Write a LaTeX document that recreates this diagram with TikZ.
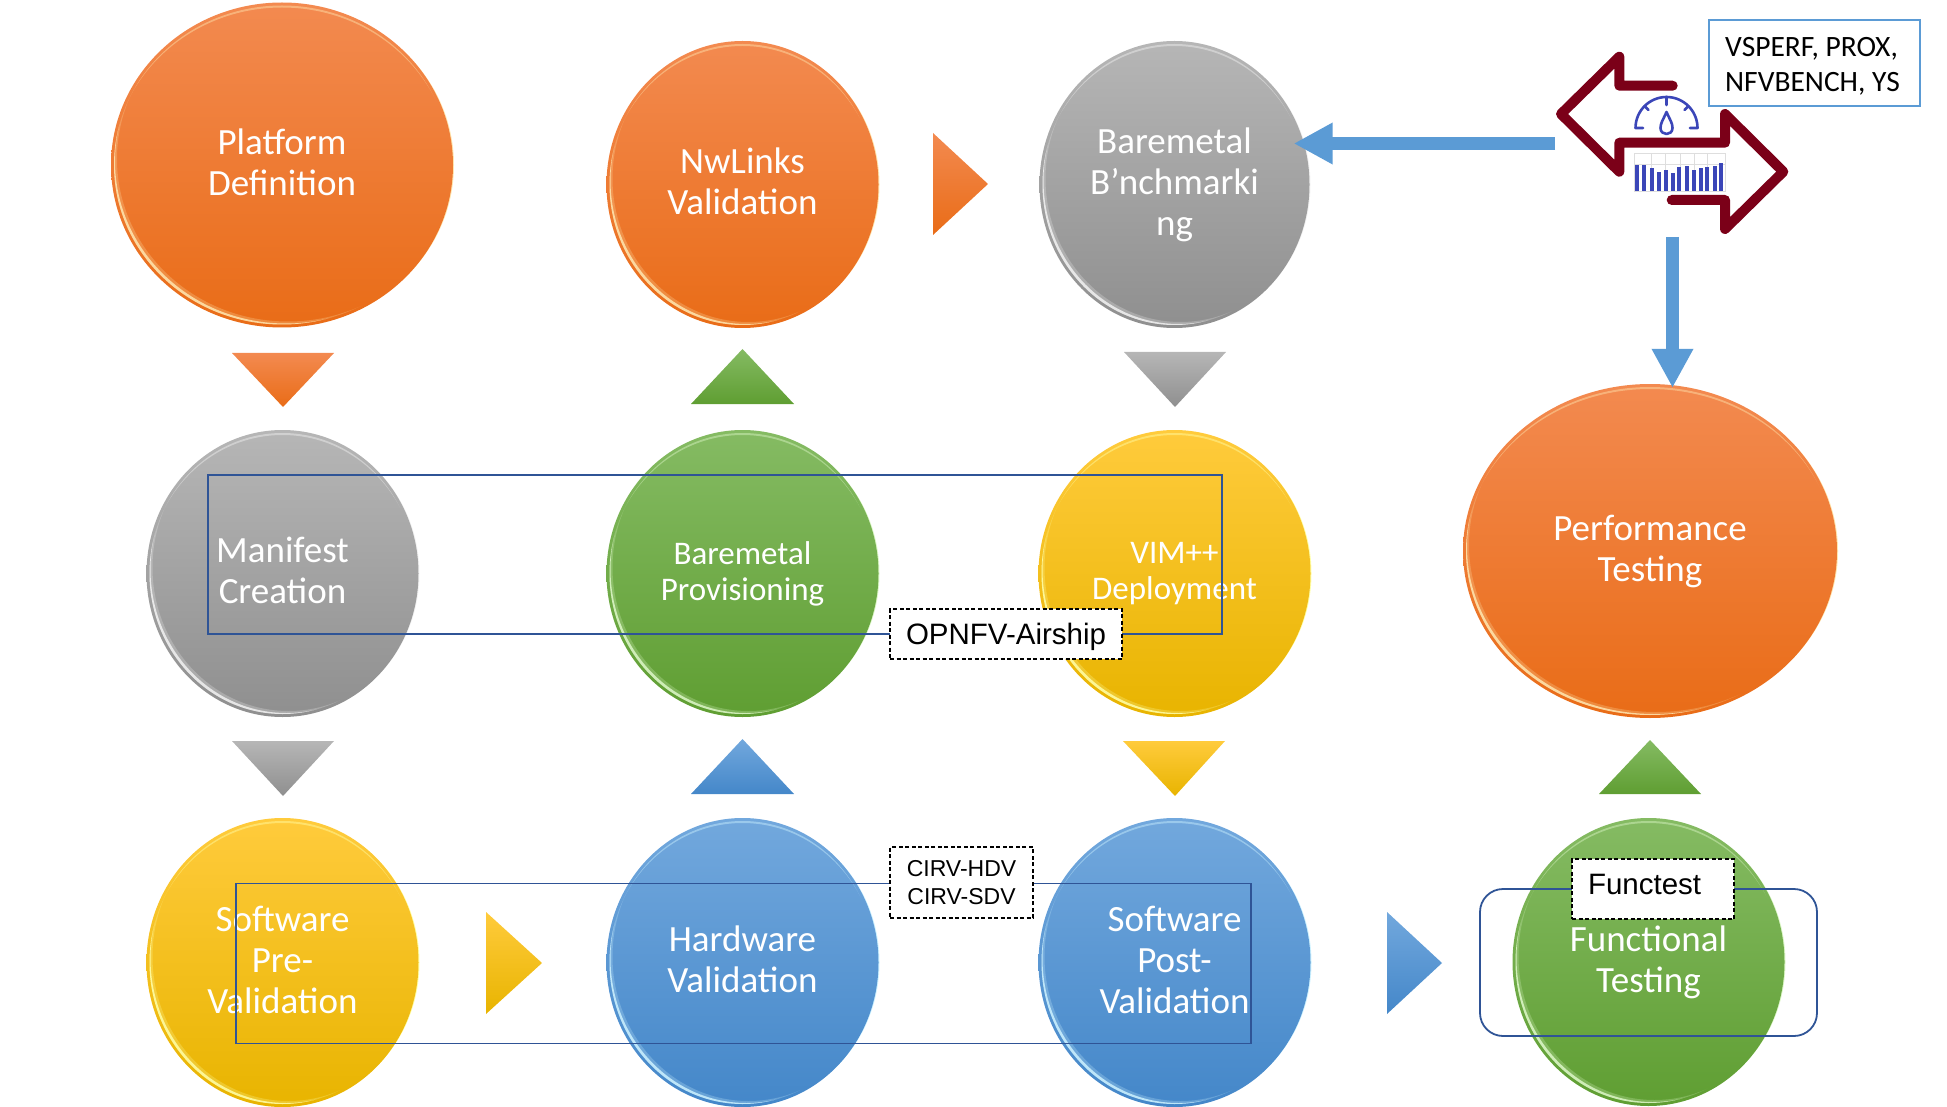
\documentclass[tikz,border=0pt]{standalone}
\usepackage{fontspec}
\setmainfont{Carlito}
\newfontfamily\arialf{Liberation Sans}
\usetikzlibrary{shapes.geometric,arrows.meta}
\definecolor{orT}{HTML}{F38A50}\definecolor{orM}{HTML}{F57C26}\definecolor{orB}{HTML}{E96C17}\definecolor{orP}{HTML}{FFE6B0}
\definecolor{grT}{HTML}{B6B6B6}\definecolor{grM}{HTML}{A5A5A5}\definecolor{grB}{HTML}{8F8F8F}\definecolor{grP}{HTML}{F2F2F2}
\definecolor{gnT}{HTML}{85BB63}\definecolor{gnM}{HTML}{70AD47}\definecolor{gnB}{HTML}{5F9E32}\definecolor{gnP}{HTML}{DDF7C8}
\definecolor{yeT}{HTML}{FFCB3C}\definecolor{yeM}{HTML}{FFC000}\definecolor{yeB}{HTML}{E8B400}\definecolor{yeP}{HTML}{FFFFA8}
\definecolor{blT}{HTML}{72A8DD}\definecolor{blM}{HTML}{5B9BD5}\definecolor{blB}{HTML}{4487C9}\definecolor{blP}{HTML}{CDF2FF}
\definecolor{framec}{HTML}{2F5496}
\definecolor{iconred}{HTML}{7B0018}
\definecolor{iconblue}{HTML}{3B46B8}
\tikzset{
  ballstyle/.style={ellipse,inner sep=0pt,text=white,align=center,font=\fontsize{37}{41}\selectfont},
  smalltext/.style={font=\fontsize{33}{36}\selectfont},
  groupbox/.style={draw=framec,line width=1.8pt,inner sep=0pt},
  tagbox/.style={draw=black,dashed,dash pattern=on 4pt off 2.5pt,line width=1.8pt,fill=white,inner sep=0pt,align=center,font=\arialf\fontsize{29.5}{34}\selectfont},
  fatarrow/.style={draw=blM,line width=13pt,-{Triangle[width=39pt,length=39pt]}},
  iconline/.style={draw=iconred,line width=10pt,line join=round,line cap=round},
  gaugeline/.style={draw=iconblue,line width=2.6pt,line cap=round,line join=round},
  gridline/.style={draw=black!13,line width=0.8pt},
  barline/.style={draw=iconblue,line width=3.9pt}
}
\newcommand{\liftby}[1]{\rule[-#1pt]{0pt}{1pt}}
% name, cx, cy, rx, ry, colour prefix, text, extra node options
\newcommand{\glossball}[8]{%
  \fill[#6P] ({#2+4},#3) ellipse [x radius=#4 pt-3pt,y radius=#5 pt-3pt];
  \node[ballstyle,minimum width=2*#4 pt,minimum height=2*#5 pt,top color=#6T,middle color=#6M,bottom color=#6B,#8] (#1) at (#2,#3) {#7};
  \begin{scope}
    \clip (#2,#3) ellipse [x radius=#4 pt-3pt,y radius=#5 pt-3pt];
    \fill[#6P,opacity=.85,even odd rule] ({#2-#4-5},{#3-#5-5}) rectangle ({#2+#4+5},{#3+#5+5}) ({#2+4},{#3-4}) ellipse [x radius=#4 pt,y radius=#5 pt];
    \fill[#6P,opacity=.25,even odd rule] ({#2-#4-5},{#3-#5-5}) rectangle ({#2+#4+5},{#3+#5+5}) ({#2+6},{#3-6}) ellipse [x radius=#4 pt,y radius=#5 pt];
    \fill[#6P,opacity=.45,even odd rule] ({#2-#4-5},{#3-#5-5}) rectangle ({#2+#4+5},{#3+#5+5}) (#2,{#3+4}) ellipse [x radius=#4 pt-1pt,y radius=#5 pt-1pt];
  \end{scope}
}
% three corners, colour prefix
\newcommand{\chevron}[4]{\shade[top color=#4T,middle color=#4M,bottom color=#4B] #1 -- #2 -- #3 -- cycle;}
\begin{document}
\begin{tikzpicture}[x=1pt,y=-1pt]
\useasboundingbox (0,0) rectangle (1947,1107);
% balls
\glossball{platform}{282}{165}{171}{162.5}{or}{Platform\\Definition\liftby{5}}{}
\glossball{nwlinks}{742.5}{184.5}{136}{143.5}{or}{NwLinks\\Validation\liftby{7}}{}
\glossball{bmbench}{1174.5}{184.5}{135}{143.5}{gr}{Baremetal\\B’nchmarki\\ng}{}
\glossball{manifest}{282.5}{573.5}{136}{143.5}{gr}{Manifest\\Creation\liftby{7}}{}
\glossball{bmprov}{742.5}{573.5}{136}{143.5}{gn}{Baremetal\\Provisioning}{smalltext}
\glossball{vim}{1174.5}{573.5}{136}{143.5}{ye}{VIM++\\Deployment}{smalltext}
\glossball{perf}{1650}{551}{187}{167}{or}{Performance\\Testing}{}
\glossball{swpre}{282.5}{962.5}{136}{144.5}{ye}{Software\\Pre-\\Validation\liftby{6}}{}
\glossball{hwval}{742.5}{962.5}{136}{144.5}{bl}{Hardware\\Validation\liftby{6}}{}
\glossball{swpost}{1174.5}{962.5}{136}{144.5}{bl}{Software\\Post-\\Validation\liftby{6}}{}
\glossball{func}{1648.5}{962}{136}{144}{gn}{Functional\\Testing}{}
% chevrons
\chevron{(232,353)}{(334,353)}{(283,407)}{or}
\chevron{(232,741)}{(334,741)}{(283,796)}{gr}
\chevron{(691,404)}{(794,404)}{(742.5,349)}{gn}
\chevron{(691,794)}{(794,794)}{(742.5,739)}{bl}
\chevron{(1124,352)}{(1226,352)}{(1175,407)}{gr}
\chevron{(1123,741)}{(1225,741)}{(1175,796)}{ye}
\chevron{(1599,794)}{(1701,794)}{(1650,740)}{gn}
\chevron{(933,133)}{(988,184)}{(933,235)}{or}
\chevron{(486,912)}{(542,963)}{(486,1014)}{ye}
\chevron{(1387,912)}{(1442,963)}{(1387,1014)}{bl}
% group frames
\node[groupbox,minimum width=1014pt,minimum height=159pt] (frameA) at (715,554.5) {};
\node[groupbox,minimum width=1015pt,minimum height=160pt] (frameB) at (743.5,963.5) {};
\node[groupbox,rounded corners=23pt,minimum width=337pt,minimum height=147pt] (frameC) at (1648.5,962.5) {};
% tags
\node[tagbox,minimum width=232pt,minimum height=50pt] (opnfv) at (1006,634) {\rule{0pt}{28pt}OPNFV-Airship};
\node[tagbox,font=\arialf\fontsize{23}{27.5}\selectfont,minimum width=143pt,minimum height=71pt] (cirv) at (961.5,882.5) {CIRV-HDV\\CIRV-SDV};
\node[tagbox,minimum height=60pt,text width=130pt,inner xsep=16pt,align=left] (functest) at (1653,889) {\raisebox{10pt}{Functest}};
\node[draw=blM,line width=2pt,fill=white,inner sep=0pt,minimum width=211pt,minimum height=86pt,align=left,font=\fontsize{29.5}{35}\selectfont] (tools) at (1814.5,63) {\rule{0pt}{26pt}VSPERF, PROX,\hspace*{4pt}\\NFVBENCH, YS\hspace*{4pt}};
% icon
\path[iconline] (1672.7,85.7) -- (1619.3,85.7) -- (1619.3,56.7) -- (1561,114) -- (1619.3,171.7) -- (1619.3,142.7) -- (1725,142.7) -- (1725,114) -- (1783.3,171.7) -- (1725,229) -- (1725,200) -- (1671.7,200);
% gauge
\path[gaugeline] (1643,128) -- (1635.5,128) arc [start angle=180,end angle=0,x radius=31pt,y radius=31pt] -- (1690,128);
\path[gaugeline] (1666.5,97) -- (1666.5,105);
\path[gaugeline] (1644.5,106) -- (1648.5,110);
\path[gaugeline] (1688.5,106) -- (1684.5,110);
\path[gaugeline] (1666.5,112) .. controls (1663,120) and (1660.5,123) .. (1660.5,128) .. controls (1660.5,136) and (1672.5,136) .. (1672.5,128) .. controls (1672.5,123) and (1670,120) .. (1666.5,112) -- cycle;
% chart
\foreach \gx in {1634.3,1651.7,1665.7,1680,1694,1707.7,1725.7} \path[gridline] (\gx,153.3) -- (\gx,191.7);
\foreach \gy in {153.3,164,191.7} \path[gridline] (1634.3,\gy) -- (1725.7,\gy);
\foreach \bx/\by in {1636.7/165,1644.3/165,1651.7/168.3,1658.7/172.3,1665.7/170,1672.7/172.7,1679.3/166.7,1686.7/165.7,1693.7/170,1700.7/167.7,1707.3/166.7,1714.7/165.7,1721.3/162.7}
  \path[barline] (\bx,191) -- (\bx,\by);
% fat arrows
\coordinate (iconW) at (1555,143.5);
\coordinate (iconS) at (1672.5,237);
\draw[fatarrow,shorten >=-16pt] (iconW) -- (bmbench.east |- iconW);
\draw[fatarrow,shorten >=-4pt] (iconS) -- (perf.north -| iconS);
\end{tikzpicture}
\end{document}
